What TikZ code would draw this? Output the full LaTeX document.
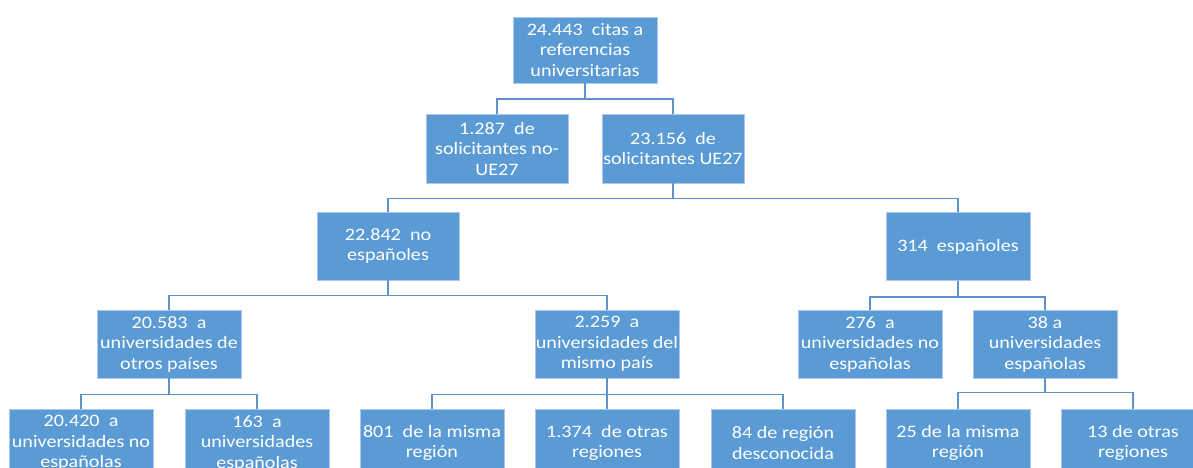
\documentclass[tikz,border=0pt]{standalone}
\usepackage{fontspec}
\setmainfont{Carlito}[FakeStretch=1.15]
\definecolor{boxfill}{HTML}{5B9BD5}
\definecolor{boxline}{HTML}{A9C8EA}
\definecolor{conn}{HTML}{5E92CC}
\begin{document}
\begin{tikzpicture}[x=1pt,y=-1pt,
  box/.style={rectangle, fill=boxfill, draw=boxline, line width=0.8pt,
    minimum width=144pt, minimum height=68pt, inner sep=0pt, align=center,
    text=white, font=\fontsize{17.5}{20.5}\selectfont},
  link/.style={draw=conn, line width=1.8pt}]
\useasboundingbox (0,0) rectangle (1193,468);
\clip (0,0) rectangle (1193,468);
\fill[white] (0,0) rectangle (1193,468);
% nodes
\node[box, minimum height=66pt] (top) at (585,50) {24.443\ \ citas a\\referencias\\universitarias};
\node[box, minimum width=142pt, minimum height=69pt] (noue) at (497,148.5) {1.287\ \ de\\solicitantes no-\\UE27};
\node[box, minimum width=142pt, minimum height=69pt] (ue) at (673,148.5) {23.156\ \ de\\solicitantes UE27};
\node[box, minimum width=142pt] (noesp) at (388,246) {22.842\ \ no\\españoles};
\node[box] (esp) at (958,246.5) {314\ \ españoles};
\node[box] (otros) at (169,344) {20.583\ \ a\\universidades de\\otros países};
\node[box] (mismo) at (607,344) {2.259\ \ a\\universidades del\\mismo país};
\node[box] (espno) at (870,344) {276\ \ a\\universidades no\\españolas};
\node[box] (espsi) at (1045,344) {38 a\\universidades\\españolas};
\node[box] (o1) at (81,443) {20.420\ \ a\\universidades no\\españolas};
\node[box] (o2) at (257,443) {163\ \ a\\universidades\\españolas};
\node[box] (m1) at (432,443) {801\ \ de la misma\\región};
\node[box] (m2) at (607,443) {1.374\ \ de otras\\regiones};
\node[box] (m3) at (783,443) {84 de región\\desconocida};
\node[box] (s1) at (958,443) {25 de la misma\\región};
\node[box] (s2) at (1133,443) {13 de otras\\regiones};
% connectors
\draw[link] (top.south) -- ++(0,16) -| (noue.north);
\draw[link] (top.south) -- ++(0,16) -| (ue.north);
\draw[link] (ue.south) -- ++(0,15) -| (noesp.north);
\draw[link] (ue.south) -- ++(0,15) -| (esp.north);
\draw[link] (noesp.south) -- ++(0,15) -| (otros.north);
\draw[link] (noesp.south) -- ++(0,15) -| (mismo.north);
\draw[link] (esp.south) -- ++(0,16) -| (espno.north);
\draw[link] (esp.south) -- ++(0,16) -| (espsi.north);
\draw[link] (otros.south) -- ++(0,16) -| (o1.north);
\draw[link] (otros.south) -- ++(0,16) -| (o2.north);
\draw[link] (mismo.south) -- ++(0,16) -| (m1.north);
\draw[link] (mismo.south) -- (m2.north);
\draw[link] (mismo.south) -- ++(0,16) -| (m3.north);
\draw[link] (espsi.south) -- ++(0,14) -| (s1.north);
\draw[link] (espsi.south) -- ++(0,14) -| (s2.north);
\end{tikzpicture}
\end{document}
